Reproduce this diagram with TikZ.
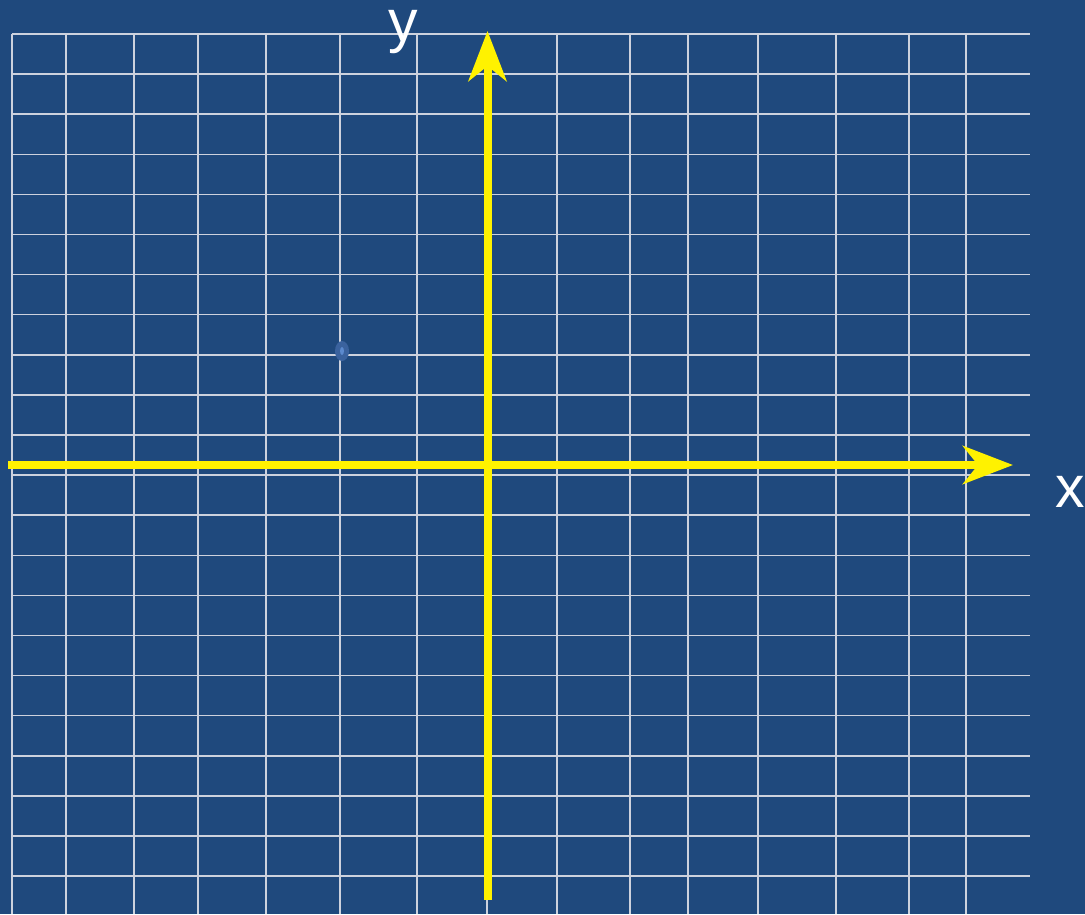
\documentclass[tikz,border=0pt]{standalone}
\usepackage{fontspec}
\setmainfont{Liberation Sans}
\usetikzlibrary{arrows.meta}

\definecolor{bgblue}{RGB}{31,73,125}
\definecolor{gridgrey}{RGB}{205,210,222}
\definecolor{dotblue}{RGB}{58,98,158}
\definecolor{dotlight}{RGB}{92,138,206}

\tikzset{
  gridline/.style={gridgrey, line width=1.5pt},
  axisline/.style={yellow, line width=8pt,
    -{Stealth[length=50pt, width=38pt, inset=15pt]}},
  axislabel/.style={white, inner sep=0pt, anchor=base west,
    font=\fontsize{59}{59}\selectfont}
}

\begin{document}
\begin{tikzpicture}[x=1pt, y=-1pt]
    % Background (fixes the picture size)
    \fill[bgblue] (0,0) rectangle (1085,914);
    \useasboundingbox (0,0) rectangle (1085,914);

    % Grid: vertical lines (uneven spacing)
    \foreach \x in {12,66,134,198,266,340,417,487,557,630,688,758,836,909,966}
        \draw[gridline] (\x,34) -- (\x,914);
    % Grid: horizontal lines
    \foreach \k in {0,...,21}
        \draw[gridline] (12,34+40.1*\k) -- (1030,34+40.1*\k);

    % Small marker on the grid
    \fill[dotblue] (342,351) ellipse (7 and 10);
    \fill[dotlight] (342,351) ellipse (2 and 4);

    % Axes end points
    \coordinate (xstart) at (8,465);
    \coordinate (xend) at (1013,465);
    \coordinate (ystart) at (487.5,900);
    \coordinate (yend) at (487.5,31);

    % Axes (drawn after the grid so they appear on top)
    \draw[axisline] (xstart) -- (xend);
    \draw[axisline] (ystart) -- (yend);

    % Axis labels
    \node[axislabel] (xlabel) at (1055,507) {x};
    \node[axislabel] (ylabel) at (388,41) {y};
\end{tikzpicture}
\end{document}
